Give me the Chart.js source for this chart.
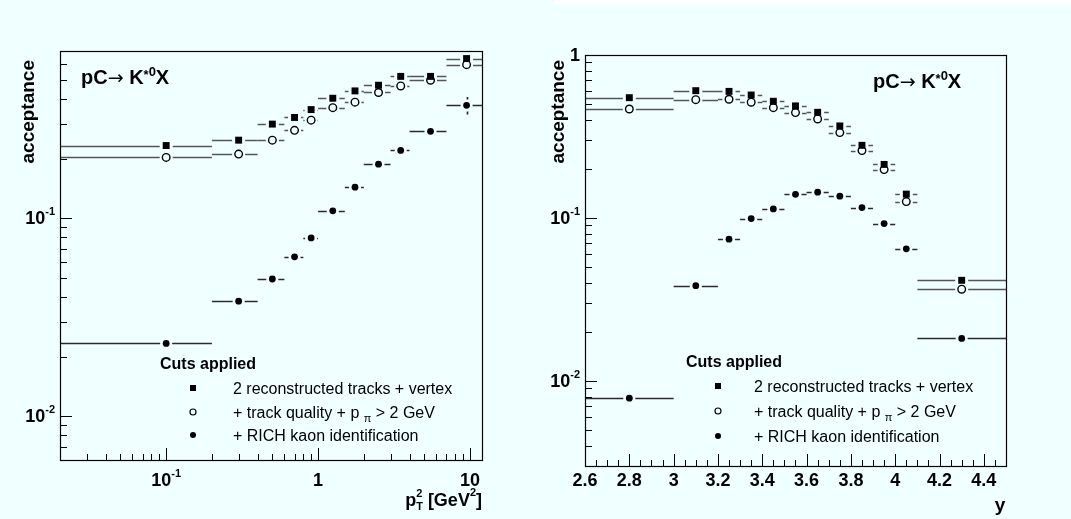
<!DOCTYPE html>
<html>
<head>
<meta charset="utf-8">
<script src="https://cdn.jsdelivr.net/npm/chart.js"></script>
<style>
  html, body { margin: 0; padding: 0; background: #f0ffff; }
  #wrap { position: relative; width: 1071px; height: 519px; background: #f0ffff; overflow: hidden; }
  #strip { position: absolute; left: 554px; top: 0; width: 517px; height: 4px; background: #ffffff; }
  canvas { position: absolute; top: 0; }
  #c1 { left: 0; }
  #c2 { left: 535px; }
</style>
</head>
<body>
<div id="wrap">
  <div id="strip"></div>
  <canvas id="c1" width="535" height="519"></canvas>
  <canvas id="c2" width="536" height="519"></canvas>
</div>
<script>
// ---------------- DATA ----------------
// Left panel: acceptance vs pT^2 [GeV^2]
const ptCenters = [0.1, 0.3, 0.5, 0.7, 0.9, 1.25, 1.75, 2.5, 3.5, 5.5, 9.5];
const ptLow     = [0, 0.2, 0.4, 0.6, 0.8, 1.0, 1.5, 2, 3, 4, 7];
const ptHigh    = [0.2, 0.4, 0.6, 0.8, 1.0, 1.5, 2, 3, 4, 7, 12];
const ptTracks  = [0.233, 0.248, 0.299, 0.323, 0.354, 0.404, 0.440, 0.470, 0.521, 0.521, 0.641];
const ptQuality = [0.203, 0.211, 0.248, 0.278, 0.313, 0.362, 0.386, 0.432, 0.466, 0.498, 0.597];
const ptRich    = [0.0233, 0.0381, 0.0493, 0.0638, 0.0795, 0.109, 0.1435, 0.1875, 0.220, 0.275, 0.372];
const ptTracksErr  = [0, 0, 0, 0, 0, 0, 0, 0, 0, 0, 0.038];
const ptQualityErr = [0, 0, 0, 0, 0, 0, 0, 0, 0, 0, 0.035];
const ptRichErr    = [0, 0, 0, 0, 0, 0, 0, 0, 0, 0, 0.038];

// Right panel: acceptance vs rapidity y
const rapCenters = [2.8, 3.1, 3.25, 3.35, 3.45, 3.55, 3.65, 3.75, 3.85, 3.95, 4.05, 4.3];
const rapLow     = [2.6, 3.0, 3.2, 3.3, 3.4, 3.5, 3.6, 3.7, 3.8, 3.9, 4.0, 4.1];
const rapHigh    = [3.0, 3.2, 3.3, 3.4, 3.5, 3.6, 3.7, 3.8, 3.9, 4.0, 4.1, 4.5];
const rapTracks  = [0.547, 0.604, 0.598, 0.568, 0.520, 0.487, 0.445, 0.367, 0.279, 0.213, 0.140, 0.0414];
const rapQuality = [0.466, 0.532, 0.535, 0.513, 0.475, 0.443, 0.405, 0.334, 0.259, 0.198, 0.126, 0.0365];
const rapRich    = [0.00783, 0.0384, 0.074, 0.099, 0.1135, 0.1395, 0.1438, 0.136, 0.1157, 0.0923, 0.0646, 0.0182];

// Tick labels
const ptTickValues   = [0.1, 1, 10];
const ptTickLabels   = ['10^-1', '1', '10'];
const accLTickValues = [0.01, 0.1];
const accLTickLabels = ['10^-2', '10^-1'];
const accRTickValues = [0.01, 0.1, 1];
const accRTickLabels = ['10^-2', '10^-1', '1'];
const rapTickValues  = [2.6, 2.8, 3, 3.2, 3.4, 3.6, 3.8, 4, 4.2, 4.4];
const rapTickLabels  = ['2.6', '2.8', '3', '3.2', '3.4', '3.6', '3.8', '4', '4.2', '4.4'];

// Texts
const seriesNames = ['2 reconstructed tracks + vertex', '+ track quality + p_\u03c0 > 2 GeV', '+ RICH kaon identification'];
const legendTitle = 'Cuts applied';
const yAxisTitle = 'acceptance';

// ---------------- HELPERS ----------------
const FAM = "'Liberation Sans', Arial, Helvetica, sans-serif";
function font(size, bold, fam) { return (bold ? 'bold ' : '') + size + 'px ' + (fam || FAM); }

function drawRuns(ctx, runs, x, y, align) {
  let total = 0;
  runs.forEach(r => {
    ctx.font = font(r.size, r.bold, r.fam);
    r.w = ctx.measureText(r.text).width + (r.pad || 0);
    if (!r.zero) total += r.w;
  });
  let cx = align === 'right' ? x - total : (align === 'center' ? x - total / 2 : x);
  ctx.textAlign = 'left';
  ctx.textBaseline = 'alphabetic';
  runs.forEach(r => {
    ctx.font = font(r.size, r.bold, r.fam);
    ctx.fillText(r.text, cx + (r.pad || 0) / 2, y + (r.dy || 0));
    if (!r.zero) cx += r.w;
  });
  return total;
}

function labelRuns(lbl, size) {
  const m = lbl.split('^');
  const runs = [{ text: m[0], size: size, bold: true }];
  if (m.length > 1) runs.push({ text: m[1], size: Math.round(size * 0.62), bold: true, dy: -Math.round(size * 0.48) });
  return runs;
}

function logTicks(min, max, majors) {
  const out = [];
  for (let e = Math.floor(Math.log10(min)); e <= Math.ceil(Math.log10(max)); e++) {
    for (let m = 1; m <= 9; m++) {
      const v = parseFloat((m * Math.pow(10, e)).toPrecision(6));
      if (v >= min * 0.999 && v <= max * 1.001) out.push({ value: v, major: majors.some(t => Math.abs(t - v) / v < 1e-6) });
    }
  }
  return out;
}
function linTicks(min, max, step, majors) {
  const out = [];
  const n = Math.round((max - min) / step);
  for (let i = 0; i <= n; i++) {
    const v = parseFloat((min + i * step).toFixed(6));
    out.push({ value: v, major: majors.some(t => Math.abs(t - v) < 1e-6) });
  }
  return out;
}

function drawMarker(ctx, type, x, y, s) {
  ctx.save();
  ctx.fillStyle = '#000'; ctx.strokeStyle = '#000';
  if (type === 'rect') { ctx.fillRect(x - s, y - s, 2 * s, 2 * s); }
  else if (type === 'open') { ctx.lineWidth = 1.2; ctx.beginPath(); ctx.arc(x, y, s, 0, Math.PI * 2); ctx.stroke(); }
  else { ctx.beginPath(); ctx.arc(x, y, s, 0, Math.PI * 2); ctx.fill(); }
  ctx.restore();
}

// ROOT-like frame / ticks / labels / error bars / texts
const rootPlugin = {
  id: 'rootStyle',
  beforeDatasetsDraw(chart, args, o) {
    const ctx = chart.ctx, a = chart.chartArea;
    const xs = chart.scales.x, ys = chart.scales.y;
    ctx.save();
    ctx.beginPath(); ctx.rect(a.left, a.top - 2, a.right - a.left, a.bottom - a.top + 4); ctx.clip();
    ctx.lineWidth = 1.7;
    o.series.forEach(s => {
      const gap = s.gap;
      ctx.strokeStyle = s.color;
      s.centers.forEach((c, i) => {
        const v = s.values[i];
        const xl = xs.getPixelForValue(Math.max(s.low[i], xs.min));
        const xh = xs.getPixelForValue(Math.min(s.high[i], xs.max));
        const xc = xs.getPixelForValue(c);
        const y = Math.round(ys.getPixelForValue(v)) + 0.5;
        ctx.beginPath();
        if (xc - gap > xl) { ctx.moveTo(xl, y); ctx.lineTo(xc - gap, y); }
        if (xh > xc + gap) { ctx.moveTo(xc + gap, y); ctx.lineTo(xh, y); }
        const e = s.errs ? s.errs[i] : 0;
        if (e > 0) {
          const yt = ys.getPixelForValue(v + e), yb = ys.getPixelForValue(v - e);
          const x = Math.round(xc) + 0.5;
          if (yt < y - gap) { ctx.moveTo(x, yt); ctx.lineTo(x, y - gap); }
          if (yb > y + gap) { ctx.moveTo(x, y + gap); ctx.lineTo(x, yb); }
        }
        ctx.stroke();
      });
    });
    ctx.restore();
  },
  afterDraw(chart, args, o) {
    const ctx = chart.ctx, a = chart.chartArea;
    const xs = chart.scales.x, ys = chart.scales.y;
    ctx.save();
    // frame
    ctx.strokeStyle = '#000'; ctx.lineWidth = 1.2;
    ctx.strokeRect(Math.round(a.left) + 0.5, Math.round(a.top) + 0.5, Math.round(a.right - a.left), Math.round(a.bottom - a.top));
    // ticks (inside, left and bottom)
    ctx.lineWidth = 1;
    xs.ticks.forEach(t => {
      const px = Math.round(xs.getPixelForValue(t.value)) + 0.5;
      if (px < a.left + 1 || px > a.right - 1) return;
      const len = t.major ? 12 : 6;
      ctx.beginPath(); ctx.moveTo(px, a.bottom); ctx.lineTo(px, a.bottom - len); ctx.stroke();
    });
    ys.ticks.forEach(t => {
      const py = Math.round(ys.getPixelForValue(t.value)) + 0.5;
      if (py < a.top + 1 || py > a.bottom - 1) return;
      const len = t.major ? 12 : 7;
      ctx.beginPath(); ctx.moveTo(a.left, py); ctx.lineTo(a.left + len, py); ctx.stroke();
    });
    // tick labels
    ctx.fillStyle = '#000';
    o.xLabels.values.forEach((v, i) => {
      const px = xs.getPixelForValue(v);
      drawRuns(ctx, labelRuns(o.xLabels.labels[i], o.tickSize), px, a.bottom + o.xLabelOffset, 'center');
    });
    o.yLabels.values.forEach((v, i) => {
      const py = ys.getPixelForValue(v);
      drawRuns(ctx, labelRuns(o.yLabels.labels[i], o.tickSize), a.left - 5, py + Math.round(o.tickSize * 0.36), 'right');
    });
    // y axis title (rotated)
    ctx.save();
    ctx.translate(o.yTitleX, o.yTitleTop);
    ctx.rotate(-Math.PI / 2);
    ctx.font = font(19, true); ctx.textAlign = 'right'; ctx.textBaseline = 'alphabetic';
    ctx.fillText(yAxisTitle, 0, 0);
    ctx.restore();
    // x axis title
    drawRuns(ctx, o.xTitle.runs, o.xTitle.x, o.xTitle.y, o.xTitle.align);
    // reaction label
    drawRuns(ctx, [
      { text: 'pC', size: 20, bold: true },
      { text: '\u2192', size: 19, bold: false, fam: "'DejaVu Sans', sans-serif" },
      { text: ' K', size: 20, bold: true },
      { text: '*', size: 13, bold: true, dy: -5 },
      { text: '0', size: 13, bold: true, dy: -8 },
      { text: 'X', size: 20, bold: true }
    ], o.reaction.x, o.reaction.y, 'left');
    // legend
    const L = o.legend;
    drawRuns(ctx, [{ text: legendTitle, size: 16, bold: true }], L.titleX, L.titleY, 'left');
    const types = ['rect', 'open', 'dot'];
    const sizes = [3, 3, 3];
    seriesNames.forEach((name, i) => {
      const my = L.rows[i];
      drawMarker(ctx, types[i], L.markerX, my, sizes[i]);
      let runs;
      if (name.indexOf('_') >= 0) {
        const p = name.split('_');
        const sub = p[1].charAt(0), rest = p[1].slice(1);
        runs = [{ text: p[0] + ' ', size: 16 }, { text: sub, size: 11, dy: 4 }, { text: rest, size: 16 }];
      } else runs = [{ text: name, size: 16 }];
      drawRuns(ctx, runs, L.textX, my + 6, 'left');
    });
    ctx.restore();
  }
};

function makePanel(id, cfg) {
  const mk = (vals) => cfg.centers.map((c, i) => ({ x: c, y: vals[i] }));
  return new Chart(document.getElementById(id), {
    type: 'scatter',
    data: {
      datasets: [
        { label: seriesNames[2], data: mk(cfg.rich), pointStyle: 'circle', pointRadius: 3.4, backgroundColor: '#000', borderColor: '#000', borderWidth: 0 },
        { label: seriesNames[1], data: mk(cfg.quality), pointStyle: 'circle', pointRadius: 3.8, backgroundColor: 'rgba(0,0,0,0)', borderColor: '#000', borderWidth: 1.4 },
        { label: seriesNames[0], data: mk(cfg.tracks), pointStyle: 'rect', pointRadius: 4.9, backgroundColor: '#000', borderColor: '#000', borderWidth: 0 }
      ]
    },
    options: {
      responsive: false, animation: false, devicePixelRatio: 1, events: [],
      layout: { padding: cfg.padding },
      scales: {
        x: {
          type: cfg.xType, min: cfg.xMin, max: cfg.xMax,
          grid: { display: false, drawTicks: false }, border: { display: false },
          ticks: { display: false },
          afterBuildTicks: s => { s.ticks = cfg.xTicks; },
          afterFit: s => { s.height = 0; }
        },
        y: {
          type: 'logarithmic', min: cfg.yMin, max: cfg.yMax,
          grid: { display: false, drawTicks: false }, border: { display: false },
          ticks: { display: false },
          afterBuildTicks: s => { s.ticks = cfg.yTicks; },
          afterFit: s => { s.width = 0; }
        }
      },
      plugins: {
        legend: { display: false }, tooltip: { enabled: false },
        rootStyle: {
          series: [
            { centers: cfg.centers, low: cfg.low, high: cfg.high, values: cfg.tracks, errs: cfg.tracksErr, gap: 6.5, color: '#555' },
            { centers: cfg.centers, low: cfg.low, high: cfg.high, values: cfg.quality, errs: cfg.qualityErr, gap: 6.5, color: '#555' },
            { centers: cfg.centers, low: cfg.low, high: cfg.high, values: cfg.rich, errs: cfg.richErr, gap: 6, color: '#2a2a2a' }
          ],
          tickSize: 18,
          xLabels: cfg.xLabels, yLabels: cfg.yLabels, xLabelOffset: cfg.xLabelOffset,
          yTitleX: cfg.yTitleX, yTitleTop: cfg.yTitleTop,
          xTitle: cfg.xTitle, reaction: cfg.reaction, legend: cfg.legend
        }
      }
    },
    plugins: [rootPlugin]
  });
}

// Left panel
makePanel('c1', {
  centers: ptCenters, low: ptLow, high: ptHigh,
  tracks: ptTracks, quality: ptQuality, rich: ptRich,
  tracksErr: ptTracksErr, qualityErr: ptQualityErr, richErr: ptRichErr,
  xType: 'logarithmic', xMin: 0.02, xMax: 12, yMin: 0.006, yMax: 0.7,
  padding: { left: 60, right: 53, top: 51, bottom: 59 },
  xTicks: logTicks(0.02, 12, ptTickValues),
  yTicks: logTicks(0.006, 0.7, accLTickValues),
  xLabels: { values: ptTickValues, labels: ptTickLabels },
  yLabels: { values: accLTickValues, labels: accLTickLabels },
  xLabelOffset: 26,
  yTitleX: 34, yTitleTop: 60,
  xTitle: { x: 482, y: 506, align: 'right', runs: [
    { text: 'p', size: 18, bold: true },
    { text: '2', size: 11, bold: true, dy: -9, zero: true },
    { text: 'T', size: 11, bold: true, dy: 4 },
    { text: ' [GeV', size: 18, bold: true },
    { text: '2', size: 11, bold: true, dy: -10 },
    { text: ']', size: 18, bold: true }
  ] },
  reaction: { x: 81, y: 84 },
  legend: { titleX: 160, titleY: 369, markerX: 193, textX: 233, rows: [388, 412, 435] }
});

// Right panel
makePanel('c2', {
  centers: rapCenters, low: rapLow, high: rapHigh,
  tracks: rapTracks, quality: rapQuality, rich: rapRich,
  tracksErr: null, qualityErr: null, richErr: null,
  xType: 'linear', xMin: 2.6, xMax: 4.5, yMin: 0.003, yMax: 1,
  padding: { left: 50, right: 65, top: 55, bottom: 53 },
  xTicks: linTicks(2.6, 4.5, 0.05, rapTickValues),
  yTicks: logTicks(0.003, 1, accRTickValues),
  xLabels: { values: rapTickValues, labels: rapTickLabels },
  xLabelOffset: 20,
  yLabels: { values: accRTickValues, labels: accRTickLabels },
  yTitleX: 29, yTitleTop: 60,
  xTitle: { x: 465, y: 511, align: 'center', runs: [{ text: 'y', size: 19, bold: true }] },
  reaction: { x: 338, y: 88 },
  legend: { titleX: 151, titleY: 367, markerX: 183, textX: 219, rows: [386, 411, 436] }
});
</script>
</body>
</html>
